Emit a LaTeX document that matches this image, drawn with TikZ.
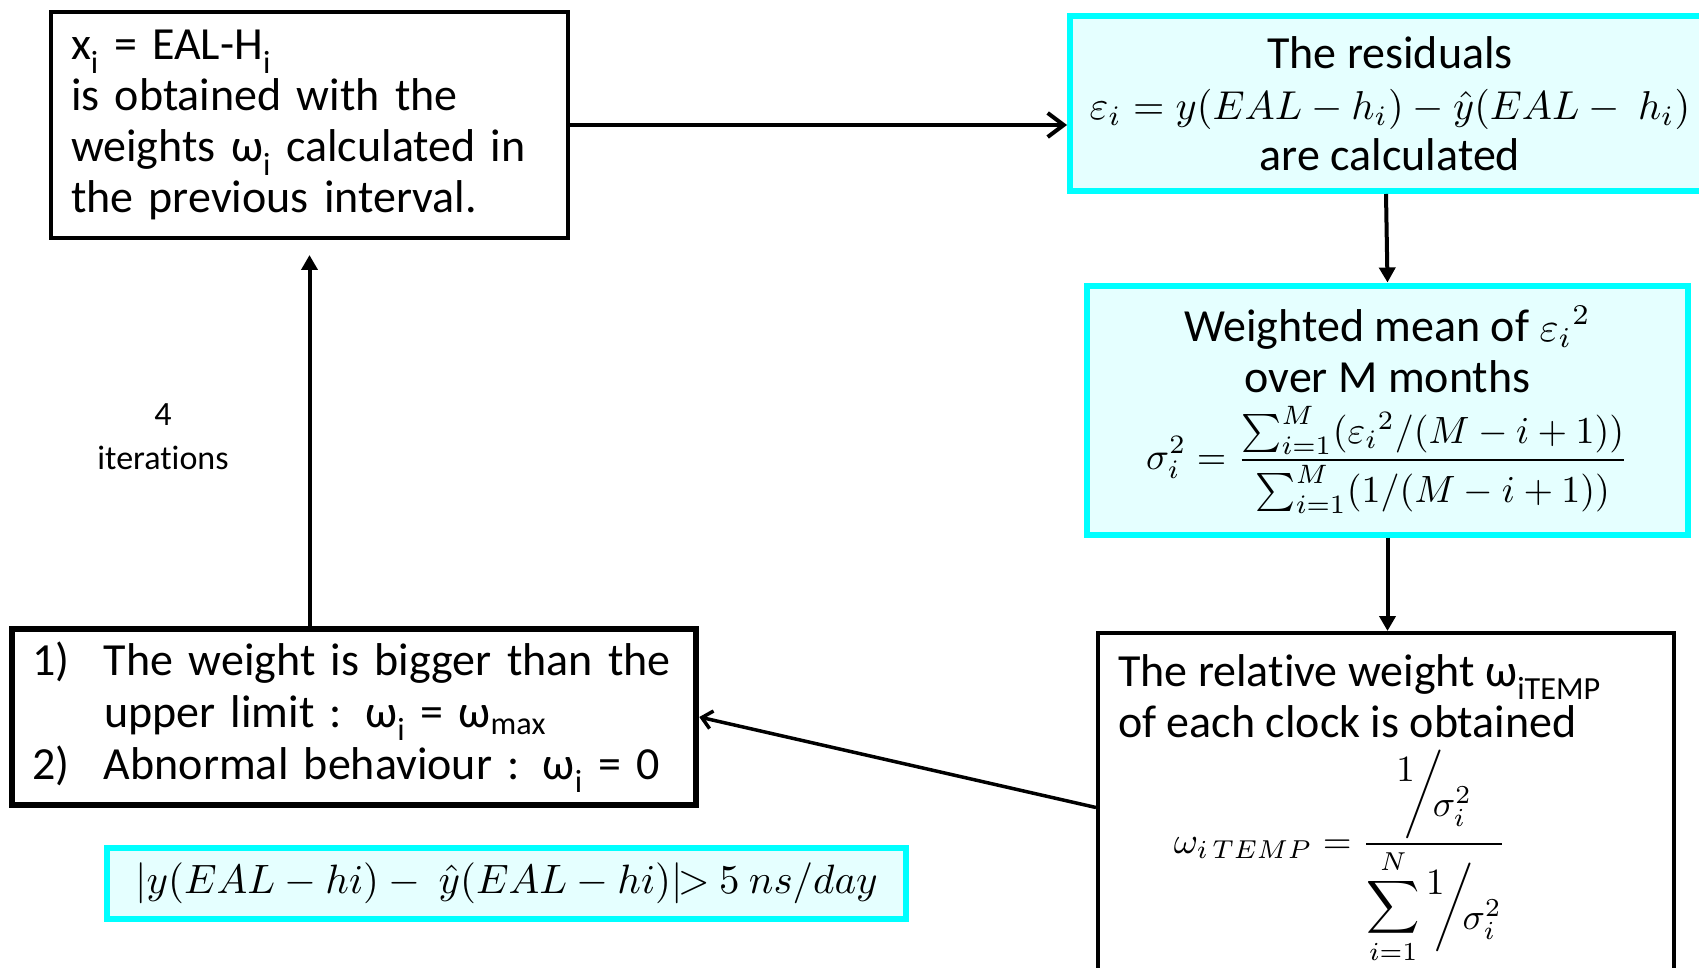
\documentclass[tikz,border=0pt]{standalone}
\usepackage{amsmath}
\usepackage{graphicx}
\usepackage{fontspec}
\setmainfont{Carlito}[Ligatures=NoCommon]
\usetikzlibrary{arrows.meta,calc}
\definecolor{cyanline}{RGB}{0,255,255}
\definecolor{cyanfill}{RGB}{229,255,255}
\newcommand{\tsub}[1]{\textsubscript{#1}}
\newcommand{\bigmath}[2]{\scalebox{#1}{\normalsize$\displaystyle #2$}}
\newcommand{\slantfrac}[2]{\raisebox{0.6em}{$#1$}\mkern-5mu\bigg/\mkern-5mu\raisebox{-0.35em}{$#2$}}
\newcommand{\mainfs}{\fontsize{46}{51}\selectfont}
\begin{document}
\begin{tikzpicture}[x=1pt,y=-1pt,
  blackbox/.style={draw=black, line width=4pt, fill=white},
  cyanbox/.style={draw=cyanline, fill=cyanfill, line width=6pt, inner sep=4pt},
  arr/.style={line width=4pt},
  every node/.style={font=\mainfs}]
\clip (0,0) rectangle (1699,968);
\fill[white] (0,0) rectangle (1699,968);

% boxes
\node[blackbox, minimum width=517pt, minimum height=226pt, inner xsep=20pt,
      text width=477pt, align=left] (A) at (309.5,125)
  {x\tsub{i} = EAL-H\tsub{i}\\
   is obtained with the\\
   weights ω\tsub{i} calculated in\\
   the previous interval.};

\node[cyanbox, minimum width=640pt, minimum height=175pt, align=center] (B) at (1390,103.5)
  {The residuals\\
   \bigmath{4.03}{\varepsilon_i = y(EAL-h_i)-\hat{y}(EAL-\ h_i)}\\
   are calculated};

\node[cyanbox, minimum width=601pt, minimum height=249pt, align=center] (C) at (1387.5,410)
  {Weighted mean of \bigmath{4.1}{\varepsilon_i{}^2}\\
   over M months\\[12pt]
   \bigmath{3.8}{\sigma_i^2 = \frac{\sum_{i=1}^{M}(\varepsilon_i{}^2/(M-i+1))}{\sum_{i=1}^{M}(1/(M-i+1))}}};

\node[blackbox, minimum width=576pt, minimum height=367pt] (D) at (1386,816.5) {};
\node[anchor=north west, align=left, inner sep=0pt] (Dt) at (1118,654)
  {The relative weight ω\tsub{iTEMP}\\
   of each clock is obtained};
\node (Df) at (1340,857)
  {\bigmath{3.7}{\omega_{i\,TEMP} = \frac{\slantfrac{1}{\sigma_i^2}}{\displaystyle\sum_{i=1}^{N}\slantfrac{1}{\sigma_i^2}}}};

\node[blackbox, line width=6.5pt, minimum width=684pt, minimum height=176pt, inner xsep=20pt,
      text width=644pt, align=left, font=\fontsize{46}{52}\selectfont] (E) at (354,717)
  {\makebox[72pt][l]{1)}The weight is bigger than the\\
   \hspace*{72pt}upper limit : ω\tsub{i} = ω\tsub{max}\\
   \makebox[72pt][l]{2)}Abnormal behaviour : ω\tsub{i} = 0};

\node[cyanbox, minimum width=799pt, minimum height=71pt] (F) at (506.5,883.5)
  {\bigmath{4.1}{|y(EAL-hi)-\ \hat{y}(EAL-hi)|\mkern-2mu{>}\ 5\ ns/day}};

\node[align=center, font=\fontsize{34}{44}\selectfont] (iter) at (163,437) {4\\iterations};

% connectors
\draw[arr, -{Straight Barb[length=16pt,width=24pt]}] (A.east) -- (A.east -| B.west);
\draw[arr, -{Triangle[length=15pt,width=16pt]}] ([xshift=-4pt]B.south) -- (C.north);
\draw[arr, -{Triangle[length=15pt,width=16pt]}] (C.south) -- (C.south |- D.north);
\coordinate (dout) at ([yshift=9pt]D.west);
\draw[line width=3.5pt, -{Straight Barb[length=10pt,width=18pt]}] (dout) -- (E.east);
\draw[arr, -{Triangle[length=15pt,width=16pt]}, shorten >=15pt] (E.north -| A.south) -- (A.south);
\end{tikzpicture}
\end{document}
